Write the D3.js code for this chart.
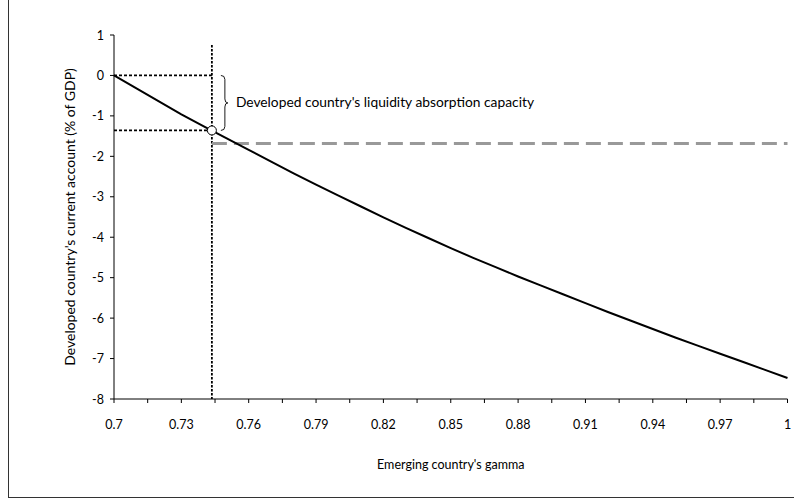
<!DOCTYPE html>
<html><head><meta charset="utf-8">
<script src="https://cdn.jsdelivr.net/npm/d3@7"></script>
<style>body{margin:0;background:#fff}svg{display:block}text{font-family:Lato,"Open Sans",sans-serif;fill:#000}</style>
</head><body><svg id="c" width="794" height="499"></svg>
<script>
const gamma = [0.70,0.71,0.72,0.73,0.74,0.75,0.76,0.77,0.78,0.79,0.80,0.81,0.82,0.83,0.84,0.85,0.86,0.87,0.88,0.89,0.90,0.91,0.92,0.93,0.94,0.95,0.96,0.97,0.98,0.99,1.00];
const currentAccount = [0,-0.32,-0.64,-0.96,-1.26,-1.55,-1.84,-2.13,-2.42,-2.70,-2.97,-3.24,-3.51,-3.77,-4.02,-4.27,-4.51,-4.74,-4.97,-5.19,-5.41,-5.63,-5.85,-6.06,-6.27,-6.48,-6.68,-6.88,-7.08,-7.28,-7.48];
const xTicks = [0.7,0.73,0.76,0.79,0.82,0.85,0.88,0.91,0.94,0.97,1];
const xMinorTicks = [0.715,0.745,0.775,0.805,0.835,0.865,0.895,0.925,0.955,0.985];
const yTicks = [1,0,-1,-2,-3,-4,-5,-6,-7,-8];
const markGamma = 0.7436;
const markValue = -1.36;
const capacityLevel = -1.68;
const annotation = "Developed country's liquidity absorption capacity";
const xTitle = "Emerging country's gamma";
const yTitle = "Developed country's current account (% of GDP)";

const svg = d3.select("#c");
const x = d3.scaleLinear().domain([0.7,1]).range([114,787.5]);
const y = d3.scaleLinear().domain([1,-8]).range([35,399]);

// frame
svg.append("line").attr("x1",8.5).attr("x2",8.5).attr("y1",0).attr("y2",497.5).attr("stroke","#333").attr("stroke-width",1);
svg.append("line").attr("x1",8).attr("x2",794).attr("y1",497.5).attr("y2",497.5).attr("stroke","#333").attr("stroke-width",1);

// axes
const xa = svg.append("g").attr("transform","translate(0,399)");
xa.append("line").attr("x1",x(0.7)).attr("x2",x(1)).attr("stroke","#000");
xa.selectAll(".t").data(xTicks.concat(xMinorTicks)).enter().append("line")
  .attr("x1",d=>x(d)).attr("x2",d=>x(d)).attr("y1",0).attr("y2",4).attr("stroke","#000");
xa.selectAll(".l").data(xTicks).enter().append("text")
  .attr("x",d=>x(d)).attr("y",30).attr("text-anchor","middle").attr("font-size",12.5)
  .text(d=>d===1?"1":d3.format(".2~f")(d));

const ya = svg.append("g").attr("transform","translate(114,0)");
ya.append("line").attr("y1",y(1)).attr("y2",y(-8)).attr("stroke","#000");
ya.selectAll(".t").data(yTicks).enter().append("line")
  .attr("x1",-4).attr("x2",0).attr("y1",d=>y(d)).attr("y2",d=>y(d)).attr("stroke","#000");
ya.selectAll(".l").data(yTicks).enter().append("text")
  .attr("x",-10).attr("y",d=>y(d)+4.5).attr("text-anchor","end").attr("font-size",12.5).text(d=>d);

// titles
svg.append("text").attr("x",(x(0.7)+x(1))/2).attr("y",469).attr("text-anchor","middle").attr("font-size",12.5).text(xTitle);
svg.append("text").attr("transform",`translate(75,${(y(1)+y(-8))/2}) rotate(-90)`).attr("text-anchor","middle").attr("font-size",14).text(yTitle);

// reference lines
svg.append("line").attr("x1",x(markGamma)).attr("x2",x(markGamma)).attr("y1",45).attr("y2",y(-8))
  .attr("stroke","#000").attr("stroke-width",1.8).attr("stroke-dasharray","2.5,1.5");
svg.append("line").attr("x1",x(0.7)).attr("x2",x(markGamma)).attr("y1",y(0)).attr("y2",y(0))
  .attr("stroke","#000").attr("stroke-width",1.8).attr("stroke-dasharray","3,2");
svg.append("line").attr("x1",x(0.7)).attr("x2",x(markGamma)).attr("y1",y(markValue)).attr("y2",y(markValue))
  .attr("stroke","#000").attr("stroke-width",1.8).attr("stroke-dasharray","3,2");
svg.append("line").attr("x1",x(markGamma)).attr("x2",x(1)).attr("y1",y(capacityLevel)).attr("y2",y(capacityLevel))
  .attr("stroke","#999").attr("stroke-width",3).attr("stroke-dasharray","15,7");

// curve
const pts = gamma.map((g,i)=>[g,currentAccount[i]]);
svg.append("path").datum(pts).attr("fill","none").attr("stroke","#000").attr("stroke-width",2)
  .attr("d",d3.line().x(d=>x(d[0])).y(d=>y(d[1])));

// marker
svg.append("circle").attr("cx",x(markGamma)).attr("cy",y(markValue)).attr("r",4.5)
  .attr("fill","#fff").attr("stroke","#000").attr("stroke-width",1);

// brace
const bx = x(markGamma)+9, y0 = y(0), y1 = y(markValue), ym = (y0+y1)/2;
svg.append("path").attr("fill","none").attr("stroke","#000").attr("stroke-width",0.9)
  .attr("d",`M${bx},${y0} Q${bx+4},${y0} ${bx+4},${y0+4} L${bx+4},${ym-4} Q${bx+4},${ym} ${bx+7},${ym} Q${bx+4},${ym} ${bx+4},${ym+4} L${bx+4},${y1-4} Q${bx+4},${y1} ${bx},${y1}`);
svg.append("text").attr("x",bx+15).attr("y",ym+4.5).attr("font-size",13.8).text(annotation);
</script></body></html>
